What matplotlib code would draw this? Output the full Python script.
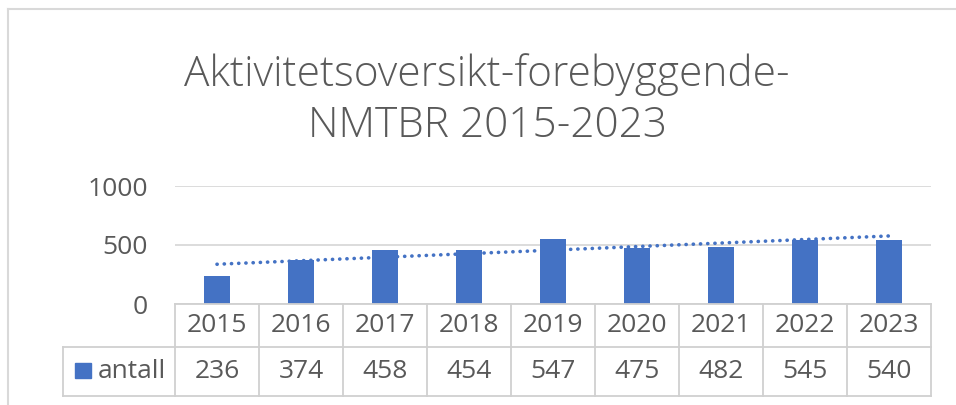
import matplotlib
matplotlib.use("Agg")
import matplotlib.pyplot as plt
import numpy as np
from matplotlib.lines import Line2D
from matplotlib.patches import Rectangle

years = ["2015", "2016", "2017", "2018", "2019", "2020", "2021", "2022", "2023"]
antall = [236, 374, 458, 454, 547, 475, 482, 545, 540]
series_name = "antall"
title = "Aktivitetsoversikt-forebyggende-\nNMTBR 2015-2023"
yticks = [0, 500, 1000]

BLUE = "#4472C4"
TXT = "#595959"
GRID = "#D9D9D9"
FONT = "Open Sans"

W, H = 956, 405
fig = plt.figure(figsize=(W / 100, H / 100), dpi=100)
fig.patch.set_facecolor("white")

def fx(px):
    return px / W

def fy(py):
    return 1 - py / H

# plot area in pixels
L, R, T, B = 175, 931, 186, 304
ax = fig.add_axes([fx(L), fy(B), fx(R) - fx(L), fy(T) - fy(B)])
x = np.arange(len(years))
ax.bar(x, antall, width=0.32, color=BLUE, zorder=3)
coef = np.polyfit(x, antall, 1)
trend = np.polyval(coef, x)
ax.plot(x, trend, color=BLUE, lw=2.6, linestyle=(0, (0.05, 1.95)),
        dash_capstyle="round", zorder=4)
ax.set_xlim(-0.5, len(years) - 0.5)
ax.set_ylim(0, 1000)
ax.set_yticks(yticks)
ax.set_yticklabels([str(v) for v in yticks], fontsize=19, color=TXT, family=FONT)
ax.tick_params(axis="y", length=0, pad=19.5)
ax.tick_params(axis="x", length=0, labelbottom=False)
ax.grid(axis="y", color=GRID, lw=1.3, zorder=0)
for s in ax.spines.values():
    s.set_visible(False)

# data table
ftr = fig.transFigure
row1_top, row1_bot, row2_bot = 304, 347, 396
legend_left = 63
cell_w = (R - L) / len(years)
lc = "#D0D0D0"
fig.add_artist(Line2D([fx(L), fx(R)], [fy(row1_top)] * 2, color=lc, lw=1.3, transform=ftr))
fig.add_artist(Line2D([fx(legend_left), fx(R)], [fy(row1_bot)] * 2, color=lc, lw=1.3, transform=ftr))
fig.add_artist(Line2D([fx(legend_left), fx(R)], [fy(row2_bot)] * 2, color=lc, lw=1.3, transform=ftr))
fig.add_artist(Line2D([fx(legend_left)] * 2, [fy(row1_bot), fy(row2_bot)], color=lc, lw=1.3, transform=ftr))
for i in range(len(years) + 1):
    xp = L + i * cell_w
    fig.add_artist(Line2D([fx(xp)] * 2, [fy(row1_top), fy(row2_bot)], color=lc, lw=1.3, transform=ftr))
for i, (yr, v) in enumerate(zip(years, antall)):
    xc = L + (i + 0.5) * cell_w
    fig.text(fx(xc), fy((row1_top + row1_bot) / 2), yr, ha="center", va="center",
             fontsize=19, color=TXT, family=FONT)
    fig.text(fx(xc), fy((row1_bot + row2_bot) / 2), str(v), ha="center", va="center",
             fontsize=19, color=TXT, family=FONT)
# legend key
fig.add_artist(Rectangle((fx(75), fy(378)), fx(16), fy(363) - fy(378), color=BLUE, transform=ftr))
fig.text(fx(98), fy((row1_bot + row2_bot) / 2), series_name, ha="left", va="center",
         fontsize=19, color=TXT, family=FONT)

# title
fig.text(fx(487), fy(100), title, ha="center", va="center", fontsize=30.5, color=TXT,
         family=FONT, linespacing=1.25, fontweight="light")

# chart frame
fig.add_artist(Line2D([fx(8), 1], [fy(9)] * 2, color=GRID, lw=1.5, transform=ftr))
fig.add_artist(Line2D([fx(8)] * 2, [fy(9), 0], color=GRID, lw=1.5, transform=ftr))

fig.savefig("out.png", dpi=100, facecolor="white")
